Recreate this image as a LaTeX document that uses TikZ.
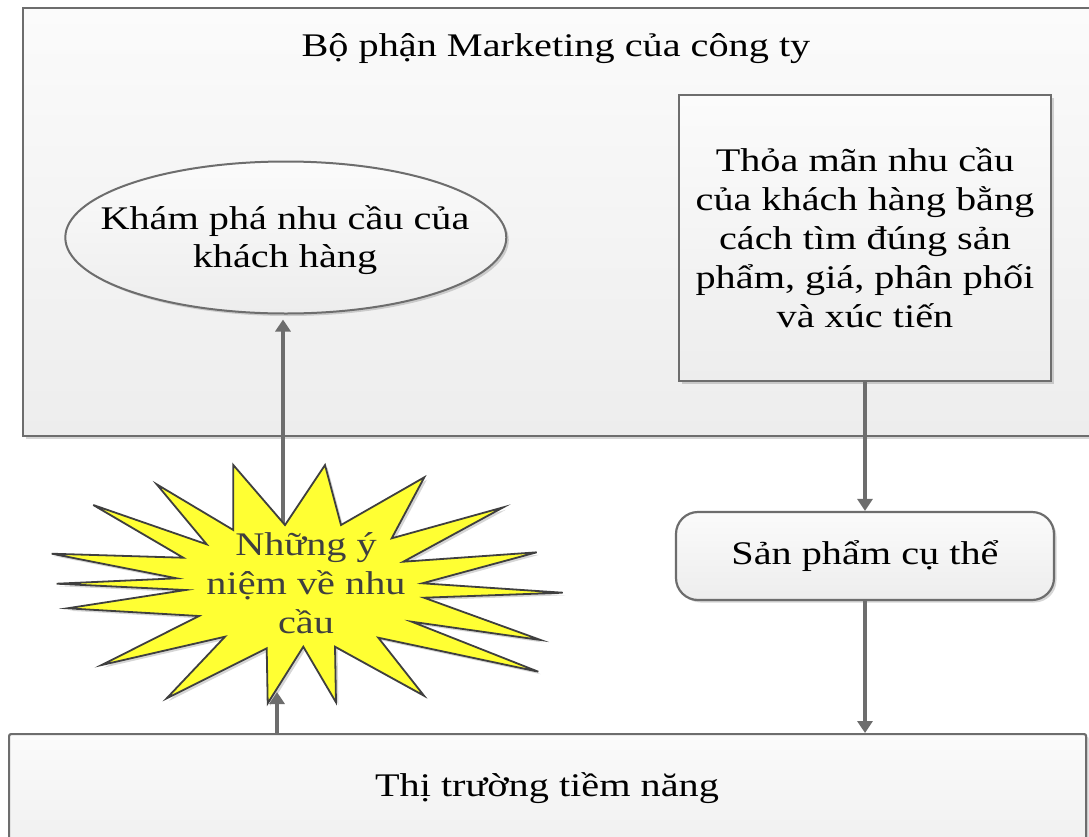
\documentclass[tikz,border=0pt]{standalone}
\usepackage{fontspec}
\setmainfont{Liberation Serif}[FakeStretch=1.22]
\usetikzlibrary{arrows.meta,shapes.geometric}

\definecolor{edgegray}{HTML}{6D6D6D}
\definecolor{paneltop}{HTML}{FBFBFB}
\definecolor{panelbottom}{HTML}{EDEDED}
\definecolor{burstfill}{HTML}{FFFF33}
\definecolor{bursttext}{HTML}{3F3F3F}

\begin{document}
\begin{tikzpicture}[x=1pt,y=-1pt,
  font=\fontsize{33}{39}\selectfont,
  softshadow/.style={preaction={fill=black,opacity=0.16,
      transform canvas={xshift=2.5pt,yshift=-2.5pt}}},
  panel/.style={rectangle,draw=edgegray,line width=2.2pt,
      top color=paneltop,bottom color=panelbottom,
      inner sep=0pt,softshadow},
  flow/.style={draw=edgegray,line width=3.6pt,
      -{Triangle[length=12pt,width=15pt]}},
  burst/.style={fill=burstfill,draw=bursttext,line width=1.8pt,
      line join=miter,softshadow}]

% page frame
\fill[white] (0,0) rectangle (1089,836);
\useasboundingbox (0,0) rectangle (1089,836);
\clip (0,0) rectangle (1089,836);

% marketing department panel
\node[panel,minimum width=1078pt,minimum height=428pt,anchor=north west]
  (dept) at (22,7) {};
\node[anchor=base] (depttitle) at (556,56.7) {Bộ phận Marketing của công ty};

% needs discovery ellipse
\node[ellipse,draw=edgegray,line width=2pt,
      top color=paneltop,bottom color=panelbottom,softshadow,
      minimum width=441pt,minimum height=152pt,inner sep=0pt]
  (explore) at (285.8,237.5) {};
\node[align=center,inner sep=0pt,font=\fontsize{33}{38}\selectfont]
  (exploretext) at (285,240) {Khám phá nhu cầu của\\khách hàng};

% marketing mix box
\node[panel,minimum width=372pt,minimum height=286pt,align=center]
  (satisfy) at (865,238)
  {Thỏa mãn nhu cầu\\của khách hàng bằng\\cách tìm đúng sản\\phẩm, giá, phân phối\\và xúc tiến};

% concrete product
\node[panel,rounded corners=22pt,minimum width=378pt,minimum height=88pt]
  (product) at (865,556) {Sản phẩm cụ thể};

% potential market panel
\node[panel,rounded corners=2pt,minimum width=1077pt,minimum height=140pt,
      anchor=north west]
  (market) at (8,733) {};
\node[anchor=base] (markettitle) at (547,796.7) {Thị trường tiềm năng};

% ends of the connectors at the starburst
\coordinate (bursttop) at (283,525);
\coordinate (burstbottom) at (277,692);

% starburst to ellipse (passes behind the starburst)
\draw[flow,shorten >=5pt] (bursttop) -- (explore.south -| bursttop);

% starburst of need ideas
\path[burst]
  (233.3,465) -- (285,525) -- (325,465) -- (341,525) -- (424.3,477.3)
  -- (391.7,538.3) -- (503.3,507.3) -- (403.3,561.7) -- (536.7,552.3)
  -- (422.3,583.3) -- (562.7,592.7) -- (424,597.7) -- (540.7,640)
  -- (411.7,621.7) -- (538.3,671.7) -- (378.3,637.7) -- (424,695.7)
  -- (335,646.7) -- (336,702.3) -- (303.3,646.7) -- (267.7,703.3)
  -- (266.7,648.3) -- (166.7,698.3) -- (225,636.7) -- (101.7,665)
  -- (199,616) -- (67.3,608.3) -- (185.7,590) -- (56.7,583.7)
  -- (176.7,578.3) -- (51.7,553.7) -- (183.3,557.7) -- (93.3,505)
  -- (206.7,544.3) -- (156.7,484.3) -- (233.3,530) -- cycle;
\node[text=bursttext,align=center,inner sep=0pt] (burst) at (306,583)
  {Những ý\\niệm về nhu\\cầu};

% flow connectors
\draw[flow] (satisfy.south) -- (product.north);
\draw[flow] (product.south) -- (market.north -| product.south);
\draw[flow] (market.north -| burstbottom) -- (burstbottom);

\end{tikzpicture}
\end{document}
